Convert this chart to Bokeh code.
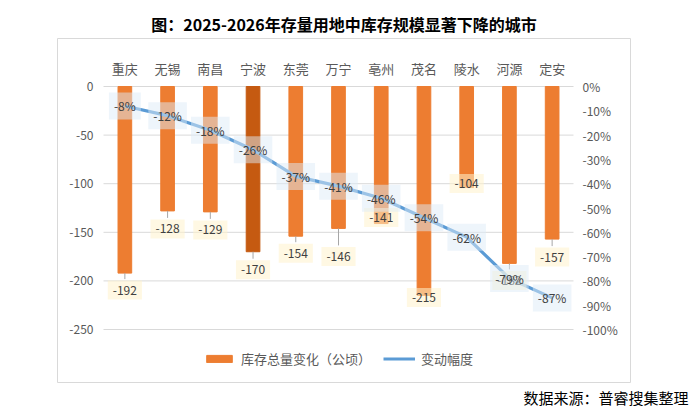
from bokeh.plotting import figure
from bokeh.models import (ColumnDataSource, Range1d, Legend, LegendItem, Title)
from bokeh.core.properties import value
from bokeh.embed import file_html
from bokeh.resources import INLINE

cities = ["重庆", "无锡", "南昌", "宁波", "东莞", "万宁", "亳州", "茂名", "陵水", "河源", "定安"]
inventory_change = [-192, -128, -129, -170, -154, -146, -141, -215, -104, -182, -157]
change_pct = [-0.08, -0.12, -0.18, -0.26, -0.37, -0.41, -0.46, -0.54, -0.62, -0.79, -0.87]
left_ticks = [0, -50, -100, -150, -200, -250]
right_ticks = [0, -0.1, -0.2, -0.3, -0.4, -0.5, -0.6, -0.7, -0.8, -0.9, -1.0]

# styling (not data)
bar_colors = ["#ED7D31"] * len(cities)
bar_colors[3] = "#C55A11"
bar_label_dy = [17, 18, 18, 18, 17, 28, -6, 2, -4, 17, 18]   # px below bar end

FONT = "Noto Sans CJK SC"
GRAY = "#595959"

# geometry of the chart area (outer box = plot frame)
W, H = 690, 410
BOX_L, BOX_R, BOX_T, BOX_B = 57, 630, 38, 382
IN_L, IN_R, IN_T, IN_B = 103, 573, 86, 329
n = len(cities)
ppx = (IN_R - IN_L) / n                  # px per category
ppy = (IN_B - IN_T) / 250.0              # px per unit (left axis)
x_lo = (BOX_L - IN_L) / ppx
x_hi = n + (BOX_R - IN_R) / ppx
y_hi = (IN_T - BOX_T) / ppy
y_lo = -(BOX_B - IN_T) / ppy
pct_ppy = (IN_B - IN_T) / 1.0

p = figure(width=W, height=H, output_backend="svg", toolbar_location=None,
           x_range=Range1d(x_lo, x_hi), y_range=Range1d(y_lo, y_hi),
           x_axis_type=None, y_axis_type=None,
           min_border_left=BOX_L, min_border_right=W - BOX_R,
           min_border_top=BOX_T, min_border_bottom=H - BOX_B)
p.extra_y_ranges = {"pct": Range1d(-(BOX_B - IN_T) / pct_ppy, (IN_T - BOX_T) / pct_ppy)}
p.xgrid.visible = False
p.ygrid.visible = False
p.outline_line_color = "#D9D9D9"
p.outline_line_width = 1
p.background_fill_color = "white"
p.border_fill_color = "white"

xs = [i + 0.5 for i in range(n)]

# gridlines
p.segment(x0=[0] * len(left_ticks), x1=[n] * len(left_ticks), y0=left_ticks, y1=left_ticks,
          line_color="#D9D9D9", line_width=1)

# left tick labels
p.text(x=[0] * len(left_ticks), y=left_ticks, text=[str(t) for t in left_ticks],
       x_offset=-10, text_align="right", text_baseline="middle",
       text_font=value(FONT), text_font_size="12px", text_color=GRAY)
# right tick labels
p.text(x=[n] * len(right_ticks), y=right_ticks, text=["%d%%" % round(t * 100) for t in right_ticks],
       y_range_name="pct", x_offset=9, text_align="left", text_baseline="middle",
       text_font=value(FONT), text_font_size="12px", text_color=GRAY)
# category labels (top)
p.text(x=xs, y=[0] * n, text=cities, y_offset=-18, text_align="center", text_baseline="middle",
       text_font=value(FONT), text_font_size="13px", text_color=GRAY)

src = ColumnDataSource(dict(
    x=xs, city=cities, val=inventory_change, pct=change_pct, color=bar_colors,
    dy=bar_label_dy,
    txt=[str(v) for v in inventory_change],
    ptxt=["%d%%" % round(v * 100) for v in change_pct],
    lead_y0=[v - max(d - 11, 0) / ppy for v, d in zip(inventory_change, bar_label_dy)],
))

bars = p.vbar(x="x", top=0, bottom="val", width=0.32, color="color", source=src)

p.segment(x0="x", x1="x", y0="val", y1="lead_y0", line_color="#A6A6A6", line_width=1, source=src)

line = p.line(x="x", y="pct", y_range_name="pct", line_color="#5B9BD5", line_width=3.2, source=src)

p.text(x="x", y="val", text="txt", y_offset="dy", source=src,
       text_align="center", text_baseline="middle", text_font=value(FONT),
       text_font_size="12px", text_color="#404040",
       background_fill_color="#FFF2CC", background_fill_alpha=0.55, padding=5)

p.text(x="x", y="pct", text="ptxt", y_range_name="pct", source=src,
       text_align="center", text_baseline="middle", text_font=value(FONT),
       text_font_size="12px", text_color="#404040",
       background_fill_color="#DEEBF7", background_fill_alpha=0.5, padding=5)

legend = Legend(items=[LegendItem(label="库存总量变化（公顷）", renderers=[bars]),
                       LegendItem(label="变动幅度", renderers=[line])],
                orientation="horizontal", location=(203 - BOX_L, BOX_B - 368),
                padding=0, margin=0, spacing=12, glyph_width=32, glyph_height=9,
                label_height=16, label_standoff=6,
                label_text_font=FONT, label_text_font_size="13px", label_text_color=GRAY,
                background_fill_alpha=0, border_line_color=None)
p.add_layout(legend)

p.title.text = "图：2025-2026年存量用地中库存规模显著下降的城市"
p.title.align = "center"
p.title.offset = 4
p.title.standoff = 6
p.title.text_font = FONT
p.title.text_font_size = "16px"
p.title.text_font_style = "bold"
p.title.text_color = "black"

note = Title(text="数据来源：普睿搜集整理", align="right", offset=-58, standoff=5,
             text_font=FONT, text_font_size="15px", text_font_style="normal", text_color="black")
p.add_layout(note, "below")

open("out.html", "w").write(file_html(p, INLINE))
